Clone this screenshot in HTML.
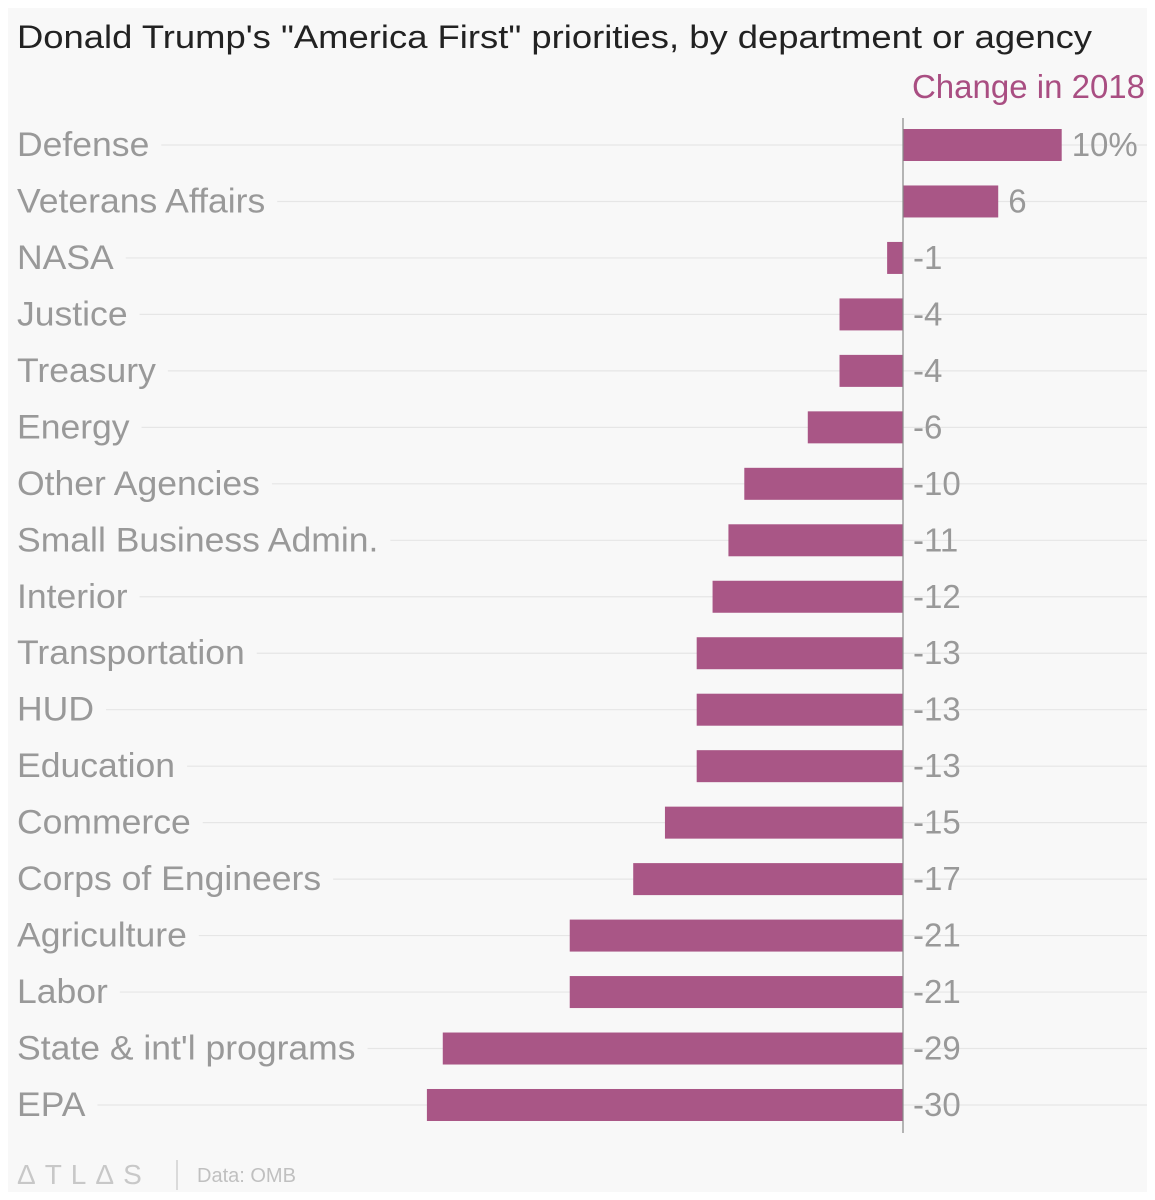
<!DOCTYPE html>
<html><head><meta charset="utf-8">
<style>
html,body{margin:0;padding:0;background:#fff;}
body{width:1155px;height:1200px;position:relative;overflow:hidden;font-family:"Liberation Sans",sans-serif;}
#panel{position:absolute;left:8px;top:8px;width:1139px;height:1184px;background:#f8f8f8;}
svg{position:absolute;left:0;top:0;}
</style></head>
<body>
<div id="panel"></div>
<svg id="chart" width="1155" height="1200">
<text x="17" y="48" font-size="32" fill="#222" textLength="1075" lengthAdjust="spacingAndGlyphs">Donald Trump's "America First" priorities, by department or agency</text>
<text x="1145" y="98" font-size="33" fill="#a94e82" text-anchor="end">Change in 2018</text>
<g id="rows"></g>
<line x1="903" y1="118" x2="903" y2="1133" stroke="#888" stroke-width="1.2"/>
<text x="17" y="1184" font-size="28" fill="#c8c8c8" letter-spacing="9">ΔTLΔS</text>
<line x1="177" y1="1160" x2="177" y2="1190" stroke="#d0d0d0" stroke-width="1.5"/>
<text x="197" y="1182" font-size="20" fill="#c0c0c0">Data: OMB</text>
</svg>
<script>
const categories = ["Defense","Veterans Affairs","NASA","Justice","Treasury","Energy","Other Agencies","Small Business Admin.","Interior","Transportation","HUD","Education","Commerce","Corps of Engineers","Agriculture","Labor","State & int'l programs","EPA"];
const values = [10,6,-1,-4,-4,-6,-10,-11,-12,-13,-13,-13,-15,-17,-21,-21,-29,-30];
const valueLabels = ["10%","6","-1","-4","-4","-6","-10","-11","-12","-13","-13","-13","-15","-17","-21","-21","-29","-30"];
const ns="http://www.w3.org/2000/svg";
const x = v => 903 + v*15.87;
const y = i => 145 + i*56.47;
const g=document.getElementById('rows');
categories.forEach((c,i)=>{
  const cy=y(i);
  const lab=document.createElementNS(ns,'text');
  lab.setAttribute('x',17);lab.setAttribute('y',cy+11);lab.setAttribute('font-size',34);lab.setAttribute('fill','#999');
  lab.textContent=c;
  
  
  g.appendChild(lab);
  let w=lab.getComputedTextLength()*1.045;
  lab.setAttribute('textLength',w);
  lab.setAttribute('lengthAdjust','spacingAndGlyphs');
  const gl=document.createElementNS(ns,'line');
  gl.setAttribute('x1',17+w+12);gl.setAttribute('x2',1147);gl.setAttribute('y1',cy);gl.setAttribute('y2',cy);
  gl.setAttribute('stroke','#e6e6e6');gl.setAttribute('stroke-width',1.2);
  
  
  g.insertBefore(gl, lab);
  const v=values[i];
  const b=document.createElementNS(ns,'rect');
  b.setAttribute('x',Math.min(x(0),x(v)));b.setAttribute('width',Math.abs(x(v)-x(0)));
  b.setAttribute('y',cy-16);b.setAttribute('height',32);b.setAttribute('fill','#a95686');
  
  
  g.appendChild(b);
  const t=document.createElementNS(ns,'text');
  t.setAttribute('x',Math.max(x(0),x(v))+10);t.setAttribute('y',cy+11);t.setAttribute('font-size',33);t.setAttribute('fill','#999');
  t.textContent=valueLabels[i];
  
  
  g.appendChild(t);
});
</script>
</body></html>
